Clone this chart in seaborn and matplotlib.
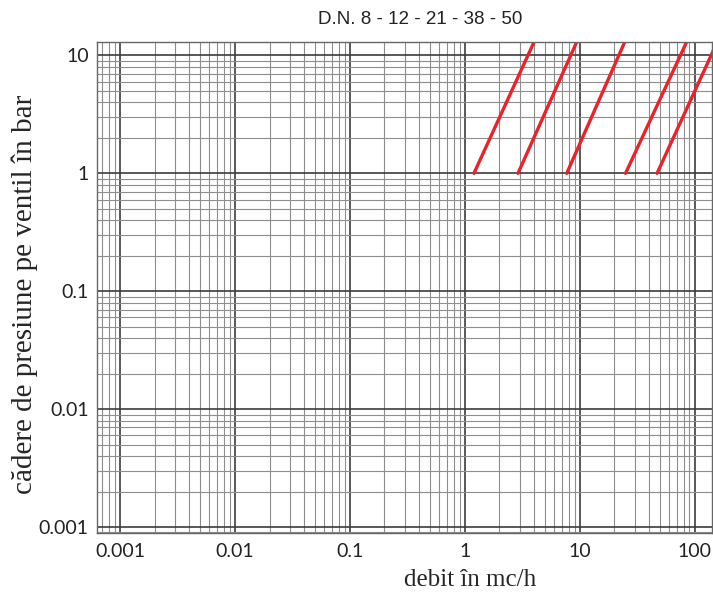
#!/usr/bin/env python3
"""Pressure drop across the valve vs. flow, log-log chart for D.N. 8-50."""
import matplotlib
matplotlib.use('Agg')
import numpy as np
import pandas as pd
import seaborn as sns
import matplotlib.pyplot as plt
from matplotlib.ticker import LogLocator, FixedLocator, FixedFormatter, NullFormatter

# one red line per nominal diameter: flow at dp=1 bar and flow at the top of the chart
dn_labels = ['DN8', 'DN12', 'DN21', 'DN38', 'DN50']
q_start = [1.2, 2.9, 7.7, 25.0, 47.0]
q_end = [4.0, 9.4, 24.6, 85.0, 157.0]
dp_start = [1.0, 1.0, 1.0, 1.0, 1.0]
dp_end = [13.0, 13.0, 13.0, 13.0, 13.0]

x_ticks = [0.001, 0.01, 0.1, 1, 10, 100]
x_ticklabels = ['0.001', '0.01', '0.1', '1', '10', '100']
y_ticks = [0.001, 0.01, 0.1, 1, 10]
y_ticklabels = ['0.001', '0.01', '0.1', '1', '10']

sns.set_theme(style="white")
plt.rcParams['font.family'] = ['Lato', 'DejaVu Sans']

rows = []
for dn, q0, q1, p0, p1 in zip(dn_labels, q_start, q_end, dp_start, dp_end):
    rows.append({'dn': dn, 'q': q0, 'dp': p0})
    rows.append({'dn': dn, 'q': q1, 'dp': p1})
df = pd.DataFrame(rows)

fig = plt.figure(figsize=(7.13, 5.94), dpi=100)
ax = fig.add_axes([0.136, 0.1027, 0.8626, 0.8266])

ax.set_xscale('log')
ax.set_yscale('log')
ax.set_xlim(10 ** -3.2, 10 ** 2.15)
ax.set_ylim(10 ** -3.05, 13)

ax.xaxis.set_major_locator(FixedLocator(x_ticks))
ax.xaxis.set_major_formatter(FixedFormatter(x_ticklabels))
ax.yaxis.set_major_locator(FixedLocator(y_ticks))
ax.yaxis.set_major_formatter(FixedFormatter(y_ticklabels))
ax.xaxis.set_minor_locator(LogLocator(base=10, subs=np.arange(2, 10)))
ax.yaxis.set_minor_locator(LogLocator(base=10, subs=np.arange(2, 10)))
ax.xaxis.set_minor_formatter(NullFormatter())
ax.yaxis.set_minor_formatter(NullFormatter())

ax.grid(True, which='major', color='#3c3c3c', linewidth=1.2)
ax.grid(True, which='minor', color='#8e8e8e', linewidth=0.8)
ax.set_axisbelow(True)
ax.tick_params(which='both', length=0, labelsize=14, colors='#222222')
ax.tick_params(axis='x', pad=7)
ax.tick_params(axis='y', pad=6)

sns.lineplot(data=df, x='q', y='dp', units='dn', estimator=None,
             color='#e8232b', linewidth=2.4, ax=ax, legend=False)

for s in ax.spines.values():
    s.set_color('#666666')
    s.set_linewidth(1.0)

ax.set_xlabel('debit în mc/h', family=['Liberation Serif'], fontsize=18, va='center')
ax.xaxis.set_label_coords(0.607, -0.096)
ax.set_ylabel('cădere de presiune pe ventil în bar', family=['Liberation Serif'],
              fontsize=21, va='center')
ax.yaxis.set_label_coords(-0.117, 0.485)
fig.text(420 / 713, 1 - 20 / 594, 'D.N. 8 - 12 - 21 - 38 - 50',
         family=['Liberation Sans', 'DejaVu Sans'], fontsize=13.5,
         ha='center', va='center', color='#222222')

fig.savefig('out.png', dpi=100)
